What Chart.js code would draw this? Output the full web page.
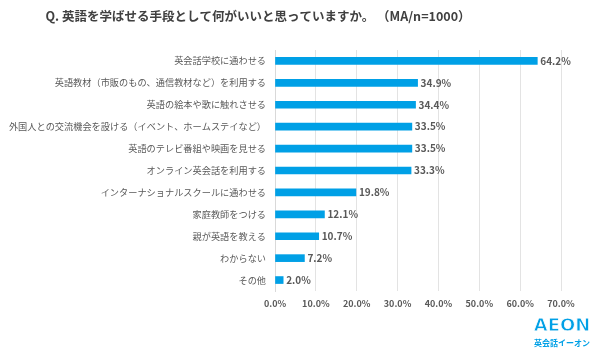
<!DOCTYPE html>
<html>
<head>
<meta charset="utf-8">
<script src="https://cdn.jsdelivr.net/npm/chart.js@4"></script>
<style>
  body { margin: 0; background: #fff; }
  #wrap { width: 600px; height: 350px; position: relative; }
</style>
</head>
<body>
<div id="wrap"><canvas id="chart"></canvas></div>
<script>
const titleText = "Q. 英語を学ばせる手段として何がいいと思っていますか。 （MA/n=1000）";

const categories = [
  "英会話学校に通わせる",
  "英語教材（市販のもの、通信教材など）を利用する",
  "英語の絵本や歌に触れさせる",
  "外国人との交流機会を設ける（イベント、ホームステイなど）",
  "英語のテレビ番組や映画を見せる",
  "オンライン英会話を利用する",
  "インターナショナルスクールに通わせる",
  "家庭教師をつける",
  "親が英語を教える",
  "わからない",
  "その他",
];

const values = [64.2, 34.9, 34.4, 33.5, 33.5, 33.3, 19.8, 12.1, 10.7, 7.2, 2.0];

const xTicks = [0, 10, 20, 30, 40, 50, 60, 70];

const fontJP = "'Noto Sans CJK JP', 'Noto Sans', sans-serif";
const blue = "#00a0e6";
const textGray = "#595959";

// value labels at bar ends + title + logo
const extras = {
  id: "extras",
  afterDatasetsDraw(chart) {
    const ctx = chart.ctx;
    const meta = chart.getDatasetMeta(0);
    ctx.save();
    ctx.font = "600 10px " + fontJP;
    ctx.fillStyle = textGray;
    ctx.textAlign = "left";
    ctx.textBaseline = "middle";
    meta.data.forEach((bar, i) => {
      ctx.fillText(values[i].toFixed(1) + "%", bar.x + 3, bar.y);
    });

    ctx.font = "bold 12.5px " + fontJP;
    ctx.fillStyle = "#404040";
    ctx.textAlign = "center";
    ctx.fillText(titleText, 258, 16);

    ctx.font = "bold 18px 'DejaVu Sans', sans-serif";
    ctx.textAlign = "center";
    ctx.fillStyle = blue;
    ctx.fillText("AEON", 562, 326);
    ctx.strokeStyle = "#ffffff";
    ctx.lineWidth = 0.8;
    ctx.strokeText("AEON", 562, 326);
    ctx.font = "bold 8px " + fontJP;
    ctx.fillStyle = blue;
    ctx.fillText("英会話イーオン", 562, 343);
    ctx.restore();
  }
};

new Chart(document.getElementById("chart"), {
  type: "bar",
  data: {
    labels: categories,
    datasets: [{
      data: values,
      backgroundColor: blue,
      barThickness: 7,
    }],
  },
  options: {
    indexAxis: "y",
    responsive: true,
    maintainAspectRatio: false,
    animation: false,
    layout: { padding: { top: 50, right: 39, left: 0, bottom: 0 } },
    plugins: {
      legend: { display: false },
      tooltip: { enabled: false },
    },
    scales: {
      x: {
        min: 0,
        max: 70,
        afterBuildTicks: (scale) => { scale.ticks = xTicks.map(v => ({ value: v })); },
        afterFit: (scale) => { scale.height = 59; },
        grid: { color: "#e3e3e3", drawTicks: false },
        border: { display: false },
        ticks: {
          padding: 7,
          color: textGray,
          font: { family: fontJP, size: 9, weight: "bold" },
          callback: (v) => v.toFixed(1) + "%",
        },
      },
      y: {
        afterFit: (scale) => { scale.width = 275; },
        grid: { display: false, drawTicks: false },
        border: { display: true, color: "#d9d9d9" },
        ticks: {
          padding: 9,
          color: textGray,
          font: { family: fontJP, size: 9.2 },
        },
      },
    },
  },
  plugins: [extras],
});
</script>
</body>
</html>
